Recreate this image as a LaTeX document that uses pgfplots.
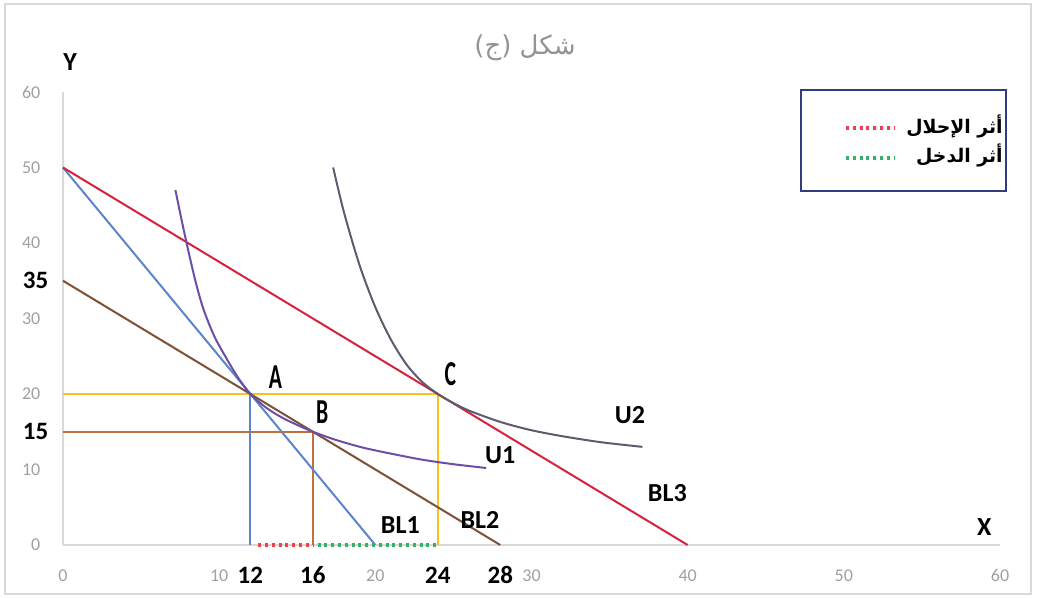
\documentclass[border=0pt]{standalone}
\usepackage{pgfplots}
\pgfplotsset{compat=1.18}
\usepackage{fontspec}
\setmainfont{Carlito}
\newfontfamily\arabicfont[Script=Arabic]{DejaVu Sans}
\TeXXeTstate=1

\definecolor{framegray}{HTML}{D9D9D9}
\definecolor{tickgray}{HTML}{A0A0A0}
\definecolor{axisgray}{HTML}{D9D9D9}
\definecolor{blBlue}{HTML}{5B84CC}
\definecolor{blBrown}{HTML}{7E5034}
\definecolor{blRed}{HTML}{D8213C}
\definecolor{uPurple}{HTML}{6B4FA6}
\definecolor{uGray}{HTML}{5C5C6E}
\definecolor{guideGold}{HTML}{F5C31C}
\definecolor{guideBrown}{HTML}{C0703C}
\definecolor{dotRed}{HTML}{F0404A}
\definecolor{dotGreen}{HTML}{3AAE6A}
\definecolor{legendNavy}{HTML}{2E3E80}

\tikzset{effectdots/.style={line width=1.6pt, dash pattern=on 1.5pt off 1.9pt}}
\newcommand{\ptlabel}[1]{\scalebox{0.62}[1]{\fontsize{17.5}{18}\selectfont\bfseries #1}}

\begin{document}
\begin{tikzpicture}
\begin{scope}[x=0.5pt,y=0.5pt]
  \path[use as bounding box] (0,0) rectangle (1037,598);
  \draw[framegray, line width=0.7pt] (5,4) rectangle (1031,594);
\end{scope}

\begin{axis}[
  at={(31.5pt,26.5pt)}, anchor=south west,
  scale only axis, width=468.5pt, height=226.5pt,
  xmin=0, xmax=60, ymin=0, ymax=60,
  axis lines=left,
  axis line style={-, draw=axisgray, line width=0.8pt},
  xtick={0,10,...,60}, ytick={0,10,...,60},
  tick style={draw=none},
  /pgf/number format/assume math mode=true,
  ticklabel style={font=\fontsize{9}{10}\selectfont, text=tickgray, inner sep=0pt},
  xticklabel style={anchor=north},
  yticklabel style={anchor=east},
  xticklabel shift=10pt, yticklabel shift=9pt,
  extra x ticks={12,16,24,28},
  extra y ticks={15,35},
  extra x tick style={xticklabel shift=8.5pt,
    tick label style={font=\fontsize{12.5}{14}\selectfont\bfseries, text=black}},
  extra y tick style={yticklabel shift=5pt,
    tick label style={font=\fontsize{12.5}{14}\selectfont\bfseries, text=black}},
  clip=false,
]
% guide lines to the optimum points
\addplot[guideGold, line width=1pt] coordinates {(0,20) (24,20) (24,0)};
\addplot[guideBrown, line width=1pt] coordinates {(0,15) (16,15) (16,0)};
\addplot[blBlue, line width=1pt] coordinates {(12,20) (12,0)};
% budget lines
\addplot[blBlue, line width=1pt] coordinates {(0,50) (20,0)};
\addplot[blBrown, line width=1pt] coordinates {(0,35) (28,0)};
\addplot[blRed, line width=1pt] coordinates {(0,50) (40,0)};
% indifference curves
\addplot[uPurple, line width=1pt, smooth] coordinates {
  (7.2,47) (7.6,43) (8.0,39.2) (8.5,34.8) (9.0,31.2) (9.7,27.6) (10.5,24.6)
  (11.2,22.2) (12,20) (13,18.2) (14,16.9) (15,15.9) (16,15) (17.5,13.9)
  (19.2,12.9) (21,12.1) (23,11.3) (25,10.7) (27.1,10.2)};
\addplot[uGray, line width=1pt, smooth] coordinates {
  (17.3,50) (18,44) (19,37) (20,31.5) (21,27.2) (22,23.9) (23,21.6) (24,20)
  (25,18.8) (26,17.8) (28,16.3) (30,15.2) (32,14.4) (34.5,13.6) (37.1,13)};
% substitution and income effects on the X axis
\addplot[dotRed, effectdots] coordinates {(12.5,0) (16,0)};
\addplot[dotGreen, effectdots] coordinates {(16.3,0) (24,0)};

% point and curve names
\node at (axis cs:13.6,22.2) {\ptlabel{A}};
\node at (axis cs:16.6,17.6) {\ptlabel{B}};
\node at (axis cs:24.8,22.6) {\ptlabel{C}};
\begin{scope}[every node/.style={font=\fontsize{13}{14}\selectfont\bfseries}]
\node at (axis cs:28.0,11.9) {U1};
\node at (axis cs:36.3,17.2) {U2};
\node at (axis cs:38.7,6.9) {BL3};
\node at (axis cs:21.6,2.6) {BL1};
\node at (axis cs:26.7,3.3) {BL2};
\node at (axis cs:59.0,2.4) {X};
\node at (axis cs:0.45,64) {Y};
\end{scope}
\end{axis}

\begin{scope}[x=0.5pt,y=0.5pt]
  % title
  \node[text=gray!85, font=\arabicfont\fontsize{13}{15}\selectfont] at (525,550) {\beginR شكل (ج)\endR};
  % legend
  \draw[legendNavy, line width=1pt] (801,508) rectangle (1006,407);
  \draw[dotRed, effectdots] (846,470) -- (895,470);
  \draw[dotGreen, effectdots] (846,440) -- (895,440);
  \node[anchor=east, inner sep=0pt, font=\arabicfont\bfseries\fontsize{9.4}{11}\selectfont] at (1003,472) {\beginR أثر الإحلال\endR};
  \node[anchor=east, inner sep=0pt, font=\arabicfont\bfseries\fontsize{9.4}{11}\selectfont] at (1003,443) {\beginR أثر الدخل\endR};
\end{scope}
\end{tikzpicture}
\end{document}
